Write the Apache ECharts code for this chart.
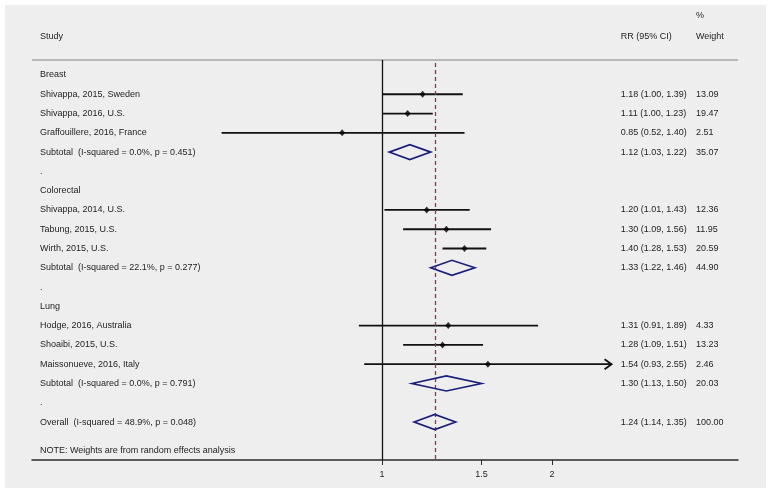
<!DOCTYPE html>
<html><head><meta charset="utf-8">
<script src="https://cdn.jsdelivr.net/npm/echarts@6/dist/echarts.min.js"></script>
<style>html,body{margin:0;padding:0;background:#fff}#c{width:771px;height:493px}</style>
</head><body><div id="c"></div>
<script>
// ---------- data ----------
const rowLabels = [
  'Breast',
  'Shivappa, 2015, Sweden',
  'Shivappa, 2016, U.S.',
  'Graffouillere, 2016, France',
  'Subtotal  (I-squared = 0.0%, p = 0.451)',
  '.',
  'Colorectal',
  'Shivappa, 2014, U.S.',
  'Tabung, 2015, U.S.',
  'Wirth, 2015, U.S.',
  'Subtotal  (I-squared = 22.1%, p = 0.277)',
  '.',
  'Lung',
  'Hodge, 2016, Australia',
  'Shoaibi, 2015, U.S.',
  'Maissonueve, 2016, Italy',
  'Subtotal  (I-squared = 0.0%, p = 0.791)',
  '.',
  'Overall  (I-squared = 48.9%, p = 0.048)'
];
const rowKind = ['group','study','study','study','pooled','blank',
                 'group','study','study','study','pooled','blank',
                 'group','study','study','study','pooled','blank','pooled'];
const rrEst  = [null,1.18,1.11,0.85,1.12,null,null,1.20,1.30,1.40,1.33,null,null,1.31,1.28,1.54,1.30,null,1.24];
const rrLow  = [null,1.00,1.00,0.52,1.03,null,null,1.01,1.09,1.28,1.22,null,null,0.91,1.09,0.93,1.13,null,1.14];
const rrHigh = [null,1.39,1.23,1.40,1.22,null,null,1.43,1.56,1.53,1.46,null,null,1.89,1.51,2.55,1.50,null,1.35];
const weights = [null,13.09,19.47,2.51,35.07,null,null,12.36,11.95,20.59,44.90,null,null,4.33,13.23,2.46,20.03,null,100.00];
const xTicks = [1, 1.5, 2];
const headStudy = 'Study', headRR = 'RR (95% CI)', headWeight = 'Weight', headPct = '%';
const noteText = 'NOTE: Weights are from random effects analysis';

// ---------- layout ----------
const FONT = '9px "Liberation Sans", Arial, Helvetica, sans-serif';
const TXT = '#1e1e1e';
const overallIdx = rowKind.lastIndexOf('pooled');
const overallRR = rrEst[overallIdx];
const colStudy = 0.0113, colRR = 0.834, colW = 0.9405;
const rowTopRule = -0.778, rowHeadMain = -2.02, rowHeadPct = -3.06, rowNote = 19.5;

const studyData = [], pooledData = [], pointData = [];
rowKind.forEach((k, i) => {
  if (k === 'study') { studyData.push([rrLow[i], rrHigh[i], rrEst[i], i]); pointData.push([rrEst[i], i]); }
  if (k === 'pooled') pooledData.push([rrLow[i], rrEst[i], rrHigh[i], i]);
});

const textItems = [];
textItems.push({x: colStudy, r: rowHeadMain, t: headStudy});
textItems.push({x: colRR, r: rowHeadMain, t: headRR});
textItems.push({x: colW, r: rowHeadMain, t: headWeight});
textItems.push({x: colW, r: rowHeadPct, t: headPct});
rowLabels.forEach((lab, i) => {
  textItems.push({x: colStudy, r: i, t: lab});
  if (rrEst[i] != null) {
    textItems.push({x: colRR, r: i, t: rrEst[i].toFixed(2) + ' (' + rrLow[i].toFixed(2) + ', ' + rrHigh[i].toFixed(2) + ')'});
    textItems.push({x: colW, r: i, t: weights[i].toFixed(2)});
  }
});
textItems.push({x: colStudy, r: rowNote, t: noteText});

const chart = echarts.init(document.getElementById('c'), null, {renderer: 'canvas'});
chart.setOption({
  backgroundColor: '#ffffff',
  animation: false,
  graphic: [{type: 'rect', z: -100, shape: {x: 5, y: 5, width: 761, height: 483}, style: {fill: '#eeeeee'}}],
  grid: {left: 32, right: 33, top: 0, bottom: 33},
  xAxis: [{
    type: 'log', min: 0.2400, max: 4.270, logBase: 10,
    axisLine: {show: true, onZero: false, lineStyle: {color: '#2a2a2a', width: 1.5}},
    axisTick: {show: true, length: 5, customValues: xTicks, lineStyle: {color: '#2a2a2a', width: 1}},
    axisLabel: {customValues: xTicks, color: TXT, fontSize: 9, fontFamily: '"Liberation Sans", Arial, sans-serif', margin: 10,
      formatter: v => String(+(+v).toFixed(2))},
    splitLine: {show: false}, minorTick: {show: false}
  }, {
    type: 'value', min: 0, max: 1, show: false
  }],
  yAxis: {type: 'value', inverse: true, min: -3.89, max: 19.97, show: false},
  series: [
    { // reference lines
      type: 'line', data: [], xAxisIndex: 0, silent: true,
      markLine: {
        symbol: 'none', silent: true, label: {show: false}, animation: false,
        data: [
          [{coord: [0.2400, rowTopRule], lineStyle: {color: '#b8b8b8', width: 2, type: 'solid'}}, {coord: [4.270, rowTopRule]}],
          [{coord: [1, rowTopRule], lineStyle: {color: '#111', width: 1.3, type: 'solid'}}, {coord: [1, 19.97]}],
          [{coord: [overallRR, rowTopRule + 0.15], lineStyle: {color: '#b02a3a', width: 1.3, type: [4, 3]}}, {coord: [overallRR, 19.97]}]
        ]
      }
    },
    { // confidence intervals
      type: 'custom', xAxisIndex: 0, data: studyData, encode: {x: [0, 1, 2], y: 3},
      renderItem: (params, api) => {
        const r = api.value(3);
        const p1 = api.coord([api.value(0), r]);
        const p2 = api.coord([api.value(1), r]);
        const children = [{type: 'line', shape: {x1: p1[0], y1: p1[1], x2: p2[0], y2: p2[1]}, style: {stroke: '#111', lineWidth: 1.8}}];
        if (api.value(1) > 2.5) {
          children.push({type: 'polyline', shape: {points: [[p2[0] - 7, p2[1] - 5], [p2[0], p2[1]], [p2[0] - 7, p2[1] + 5]]}, style: {stroke: '#111', lineWidth: 1.8, fill: 'none'}});
        }
        return {type: 'group', children};
      }
    },
    { // point estimates
      type: 'scatter', xAxisIndex: 0, data: pointData, symbol: 'diamond', symbolSize: [6, 7],
      itemStyle: {color: '#000'}, z: 5
    },
    { // pooled diamonds
      type: 'custom', xAxisIndex: 0, data: pooledData, encode: {x: [0, 1, 2], y: 3},
      renderItem: (params, api) => {
        const r = api.value(3);
        const a = api.coord([api.value(0), r]);
        const m = api.coord([api.value(1), r]);
        const b = api.coord([api.value(2), r]);
        const h = 7.5;
        return {type: 'polygon', shape: {points: [a, [m[0], m[1] - h], b, [m[0], m[1] + h]]},
                style: {stroke: '#1b1f7a', lineWidth: 1.7, fill: 'none'}};
      }, z: 6
    },
    { // text table
      type: 'custom', xAxisIndex: 1, data: textItems.map(d => [d.x, d.r]), encode: {x: 0, y: 1},
      renderItem: (params, api) => {
        const p = api.coord([api.value(0), api.value(1)]);
        return {type: 'text', x: p[0], y: p[1], style: {text: textItems[params.dataIndex].t, font: FONT, fill: TXT, textAlign: 'left', textVerticalAlign: 'middle'}};
      }
    }
  ]
});
</script></body></html>
